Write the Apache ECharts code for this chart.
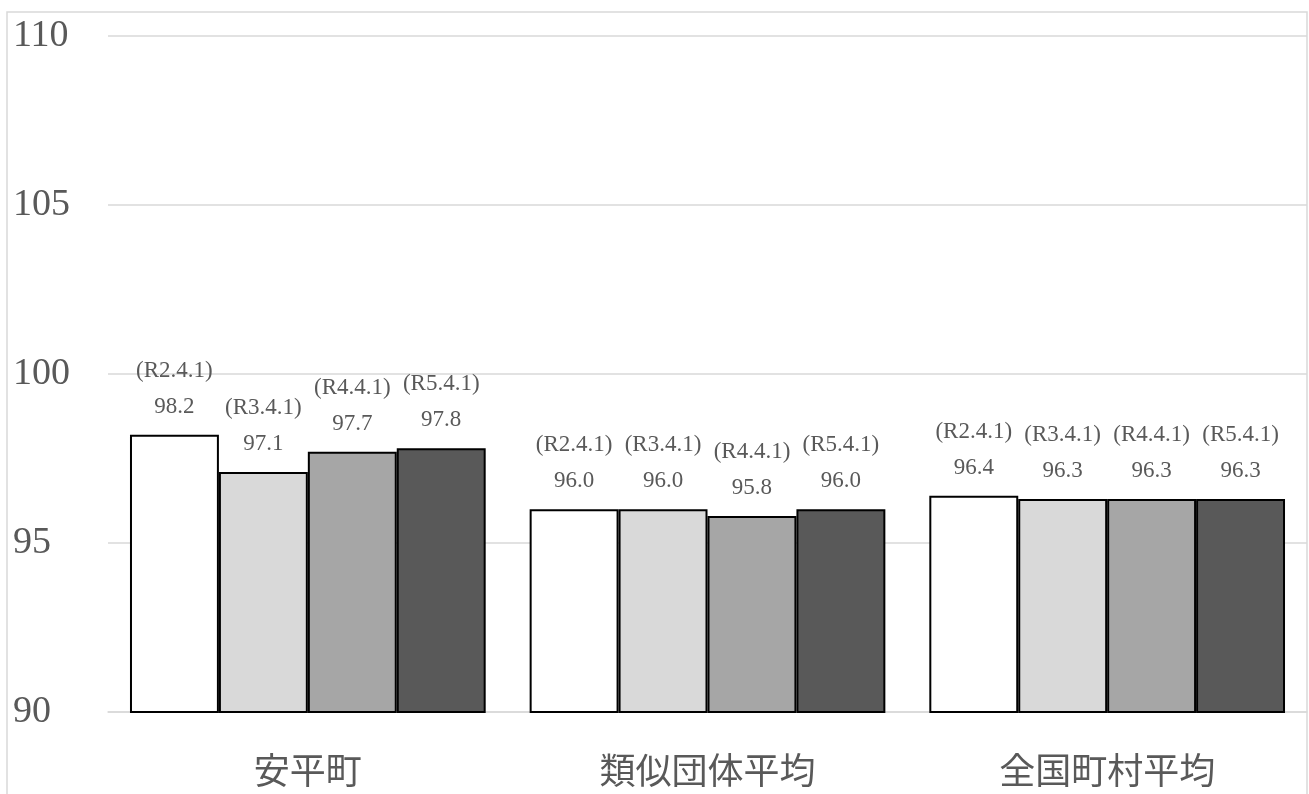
<!DOCTYPE html>
<html>
<head>
<meta charset="utf-8">
<script src="https://cdn.jsdelivr.net/npm/echarts@6/dist/echarts.min.js"></script>
<style>
  html, body { margin: 0; padding: 0; background: #fff; }
  #chart { width: 1309px; height: 794px; }
</style>
</head>
<body>
<div id="chart"></div>
<script>
// categories and series data
const categories = ["安平町", "類似団体平均", "全国町村平均"];
const seriesNames = ["R2.4.1", "R3.4.1", "R4.4.1", "R5.4.1"];
const valuesR2 = [98.2, 96.0, 96.4];
const valuesR3 = [97.1, 96.0, 96.3];
const valuesR4 = [97.7, 95.8, 96.3];
const valuesR5 = [97.8, 96.0, 96.3];
const barColors = ["#ffffff", "#d9d9d9", "#a6a6a6", "#595959"];

const chart = echarts.init(document.getElementById("chart"));

const allValues = [valuesR2, valuesR3, valuesR4, valuesR5];

const option = {
  animation: false,
  backgroundColor: "#fff",
  graphic: [
    {
      type: "rect",
      shape: { x: 7, y: 12, width: 1300, height: 800 },
      style: { fill: "none", stroke: "#d9d9d9", lineWidth: 1.5 },
      silent: true
    }
  ],
  grid: { left: 108, right: 2, top: 36, bottom: 82 },
  xAxis: {
    type: "category",
    data: categories,
    axisLine: { show: true, lineStyle: { color: "#d9d9d9", width: 1.5 } },
    axisTick: { show: false },
    axisLabel: {
      margin: 40,
      fontSize: 36,
      color: "#595959",
      fontFamily: "Noto Sans CJK JP"
    }
  },
  yAxis: {
    type: "value",
    min: 90,
    max: 110,
    interval: 5,
    axisLine: { show: false },
    axisTick: { show: false },
    splitLine: { lineStyle: { color: "#d9d9d9", width: 1.5 } },
    axisLabel: {
      align: "left",
      margin: 95,
      fontSize: 38,
      color: "#595959",
      fontFamily: "Liberation Serif"
    }
  },
  series: seriesNames.map(function (name, i) {
    return {
      name: name,
      type: "bar",
      data: allValues[i],
      barGap: "0%",
      barCategoryGap: "11%",
      itemStyle: {
        color: barColors[i],
        borderColor: "#000",
        borderWidth: 2
      },
      label: {
        show: true,
        position: "top",
        distance: 10,
        fontSize: 23,
        lineHeight: 36,
        color: "#595959",
        fontFamily: "Liberation Serif",
        formatter: function (p) {
          return "(" + p.seriesName + ")\n" + p.value.toFixed(1);
        }
      }
    };
  })
};

chart.setOption(option);
</script>
</body>
</html>
